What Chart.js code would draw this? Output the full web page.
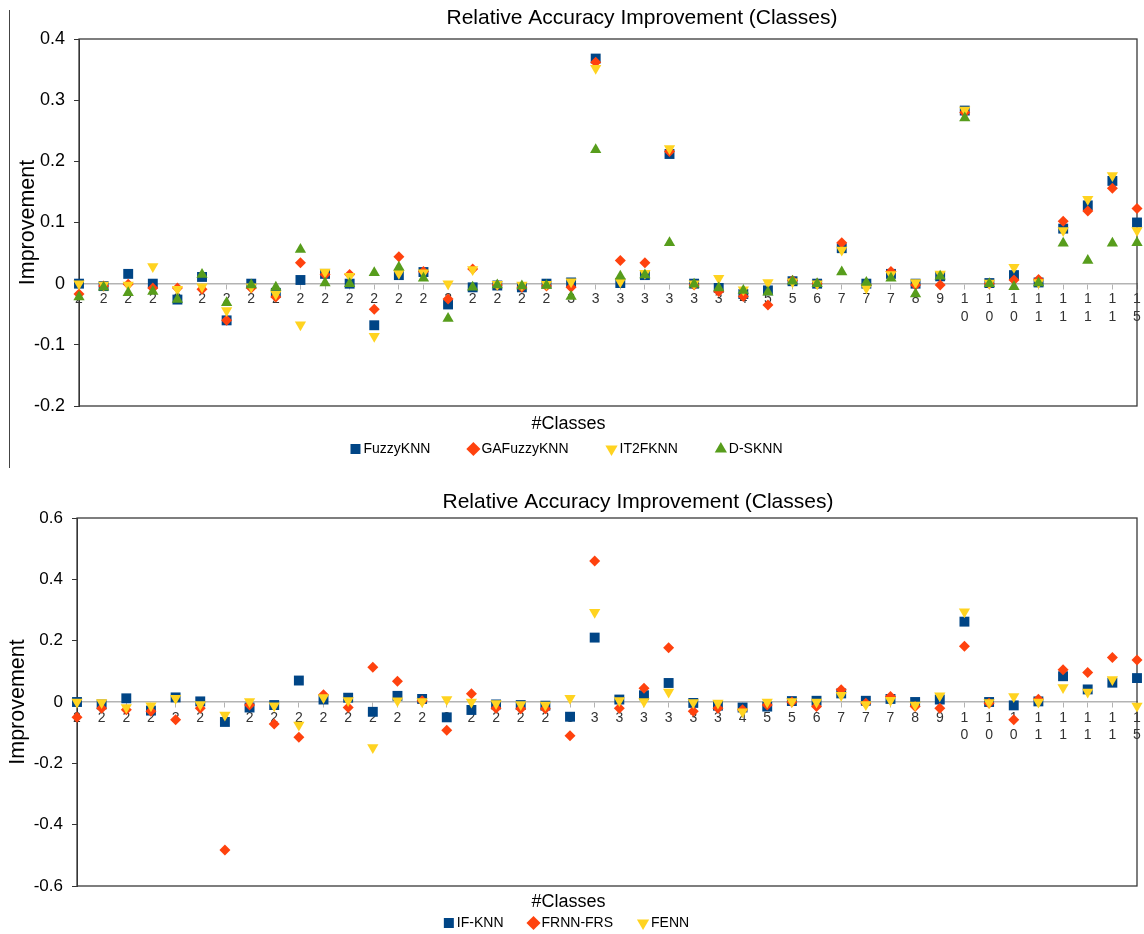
<!DOCTYPE html>
<html>
<head>
<meta charset="utf-8">
<script src="https://cdn.jsdelivr.net/npm/chart.js@4"></script>
<style>
html,body{margin:0;padding:0;background:#fff;}
#wrap{position:relative;width:1144px;height:934px;overflow:hidden;}
#c1{position:absolute;left:0;top:0;}
#c2{position:absolute;left:0;top:470px;}
#edge{position:absolute;left:9px;top:10px;width:0;height:458px;border-left:1px solid #444;}
</style>
</head>
<body>
<div id="wrap">
  <canvas id="c1" width="1144" height="470"></canvas>
  <canvas id="c2" width="1144" height="464"></canvas>
  <div id="edge"></div>
</div>
<script>
// ---- data ----
const categories = ['2','2','2','2','2','2','2','2','2','2','2','2','2','2','2','2','2','2','2','2',
  '3','3','3','3','3','3','3','4','5','5','6','7','7','7','8','9','10','10','10','11','11','11','11','15'];

const yTicksTop = [-0.2, -0.1, 0, 0.1, 0.2, 0.3, 0.4];
const yTicksBottom = [-0.6, -0.4, -0.2, 0, 0.2, 0.4, 0.6];

const fuzzyKNN = [0, -0.004, 0.016, 0, -0.026, 0.011, -0.06, 0, -0.015, 0.006, 0.016, 0, -0.068, 0.014, 0.019, -0.034, -0.006, -0.003, -0.006, 0, 0.002,
  0.368, 0.001, 0.014, 0.212, 0, -0.007, -0.017, -0.011, 0.004, 0, 0.058, 0, 0.016, 0, 0.012, 0.283, 0.001, 0.014, 0.002, 0.09, 0.128, 0.168, 0.1];
const gaFuzzyKNN = [-0.017, -0.004, -0.001, -0.007, -0.007, -0.009, -0.06, -0.007, -0.022, 0.034, 0.015, 0.015, -0.042, 0.044, 0.02, -0.025, 0.024, -0.002, -0.006, -0.004, -0.006,
  0.362, 0.038, 0.034, 0.216, -0.002, -0.013, -0.021, -0.035, 0.005, 0, 0.067, -0.002, 0.02, -0.002, -0.002, 0.28, 0, 0.006, 0.007, 0.102, 0.119, 0.156, 0.123];
const it2FKNN = [0, -0.002, -0.002, 0.028, -0.009, -0.005, -0.044, -0.005, -0.017, -0.067, 0.019, 0.012, -0.086, 0.017, 0.018, 0, 0.023, -0.001, -0.002, -0.001, 0.003,
  0.352, 0.003, 0.017, 0.221, 0, 0.009, -0.01, 0.002, 0.003, 0, 0.055, -0.007, 0.015, 0.002, 0.016, 0.284, 0.001, 0.027, 0.002, 0.087, 0.138, 0.177, 0.087];
const dSKNN = [-0.022, -0.006, -0.015, -0.013, -0.026, 0.015, -0.031, -0.002, -0.006, 0.056, 0.001, 0, 0.018, 0.027, 0.009, -0.057, -0.006, -0.002, -0.004, -0.003, -0.021,
  0.219, 0.012, 0.014, 0.067, -0.001, -0.007, -0.011, -0.014, 0.004, 0, 0.019, 0.002, 0.009, -0.017, 0.012, 0.271, 0, -0.005, 0.001, 0.066, 0.038, 0.066, 0.067];

const ifKNN = [0, -0.008, 0.012, -0.028, 0.015, 0.002, -0.065, -0.018, -0.01, 0.07, 0.008, 0.014, -0.032, 0.02, 0.01, -0.05, -0.026, -0.008, -0.01, -0.012, -0.048,
  0.21, 0.008, 0.022, 0.062, -0.003, -0.012, -0.018, -0.015, 0.003, 0.004, 0.028, 0.004, 0.01, 0, 0.008, 0.262, 0, -0.011, 0.002, 0.084, 0.041, 0.063, 0.078];
const frnnFRS = [-0.05, -0.02, -0.025, -0.03, -0.058, -0.02, -0.483, -0.01, -0.072, -0.115, 0.024, -0.018, 0.113, 0.068, 0.004, -0.092, 0.027, -0.02, -0.022, -0.022, -0.11,
  0.46, -0.02, 0.045, 0.177, -0.03, -0.02, -0.025, -0.01, 0, -0.015, 0.04, -0.004, 0.018, -0.015, -0.02, 0.182, -0.004, -0.058, 0.009, 0.105, 0.096, 0.145, 0.137];
const fenn = [0, -0.002, -0.018, -0.012, 0.012, -0.008, -0.042, 0.002, -0.012, -0.075, 0.015, 0.005, -0.148, 0.004, 0.002, 0.008, 0, -0.005, -0.008, -0.01, 0.012,
  0.293, 0.005, 0.002, 0.033, -0.002, -0.003, -0.032, 0, 0.002, 0, 0.022, -0.008, 0.006, -0.01, 0.02, 0.294, -0.002, 0.018, 0, 0.047, 0.033, 0.073, -0.013];

const chartTitle = 'Relative Accuracy Improvement (Classes)';

// ---- style ----
const FONT = "'Liberation Sans', Arial, sans-serif";
const BLUE = '#004586', ORANGE = '#ff420e', YELLOW = '#ffd320', GREEN = '#579d1c';

function series(label, data, color, style, rotation, radius, order) {
  return {
    label, data, order, clip: false, showLine: false,
    backgroundColor: color, borderColor: color, borderWidth: 0,
    pointStyle: style, rotation: rotation,
    pointRadius: radius, pointHoverRadius: radius
  };
}

const frame = {
  id: 'frame',
  beforeDatasetsDraw(chart) {
    const {ctx, chartArea: a} = chart;
    ctx.save();
    ctx.strokeStyle = '#3a3a3a';
    ctx.lineWidth = 1.3;
    ctx.strokeRect(a.left, a.top, a.right - a.left, a.bottom - a.top);
    ctx.restore();
  }
};

// heading text (centred like the original, which is offset from the plot centre)
const heading = {
  id: 'heading',
  afterDraw(chart, args, opts) {
    const ctx = chart.ctx;
    ctx.save();
    ctx.fillStyle = '#000';
    ctx.font = opts.size + 'px ' + FONT;
    ctx.textAlign = 'center';
    ctx.textBaseline = 'middle';
    ctx.fillText(opts.text, opts.cx, opts.cy);
    ctx.restore();
  }
};

function fmt(v) {
  const r = Math.round(v * 10) / 10;
  return r === 0 ? '0' : String(r);
}

function makeChart(id, sets, yTicks, L) {
  return new Chart(document.getElementById(id), {
    type: 'line',
    data: { labels: categories, datasets: sets },
    plugins: [frame, heading],
    options: {
      responsive: false,
      animation: false,
      events: [],
      layout: { padding: { left: 0, right: 7, top: L.padTop, bottom: L.padBottom } },
      plugins: {
        tooltip: { enabled: false },
        title: { display: false },
        heading: { text: chartTitle, cx: L.titleX, cy: L.titleY, size: 21 },
        legend: {
          display: true, position: 'bottom', maxHeight: L.legendMax,
          title: {
            display: true, text: '#Classes', color: '#000',
            font: { family: FONT, size: 18 },
            padding: { top: L.ltTop, bottom: L.ltBottom }
          },
          labels: {
            usePointStyle: true, boxWidth: 2, boxHeight: 10, padding: L.legendGap,
            color: '#000', font: { family: FONT, size: 14 },
            sort: (a, b) => a.datasetIndex - b.datasetIndex
          }
        }
      },
      scales: {
        x: {
          type: 'category', position: { y: 0 }, offset: false,
          grid: { display: true, drawOnChartArea: false, drawTicks: true, tickLength: 5, color: '#b3b3b3' },
          border: { display: true, color: '#b3b3b3', width: 1.5 },
          ticks: {
            autoSkip: false, maxRotation: 0, minRotation: 0, padding: 2, color: '#333',
            font: { family: FONT, size: 14, lineHeight: 1.25 },
            callback: (v, i) => categories[i].length > 1 ? categories[i].split('') : categories[i]
          }
        },
        y: {
          type: 'linear', position: 'left', min: yTicks[0], max: yTicks[yTicks.length - 1],
          afterBuildTicks: s => { s.ticks = yTicks.map(v => ({ value: v })); },
          afterFit: s => { s.width = L.axisLeft; },
          grid: { display: true, drawOnChartArea: false, drawTicks: true, tickLength: 5, color: '#333' },
          border: { display: true, color: '#333', width: 1 },
          ticks: { padding: L.tickPad, color: '#000', font: { family: FONT, size: L.yFont }, callback: v => fmt(v) },
          title: {
            display: true, text: 'Improvement', color: '#000',
            font: { family: FONT, size: 21.5 }, padding: { top: L.yTitleTop, bottom: 0 }
          }
        }
      }
    }
  });
}

makeChart('c1', [
  series('FuzzyKNN', fuzzyKNN, BLUE, 'rect', 0, 7, 4),
  series('GAFuzzyKNN', gaFuzzyKNN, ORANGE, 'rectRot', 0, 5.5, 3),
  series('IT2FKNN', it2FKNN, YELLOW, 'triangle', 180, 6.5, 2),
  series('D-SKNN', dSKNN, GREEN, 'triangle', 0, 6.5, 1)
], yTicksTop, {
  padTop: 39, padBottom: 4, titleX: 642, titleY: 18, legendMax: 60, ltTop: 9, ltBottom: -36.6,
  legendGap: 42, axisLeft: 79, tickPad: 9, yFont: 18, yTitleTop: 15
});

makeChart('c2', [
  series('IF-KNN', ifKNN, BLUE, 'rect', 0, 7, 3),
  series('FRNN-FRS', frnnFRS, ORANGE, 'rectRot', 0, 5.5, 2),
  series('FENN', fenn, YELLOW, 'triangle', 180, 6.5, 1)
], yTicksBottom, {
  padTop: 48, padBottom: 0, titleX: 638, titleY: 32, legendMax: 48, ltTop: 7, ltBottom: -27.6,
  legendGap: 29, axisLeft: 77, tickPad: 9, yFont: 17, yTitleTop: 5
});
</script>
</body>
</html>
